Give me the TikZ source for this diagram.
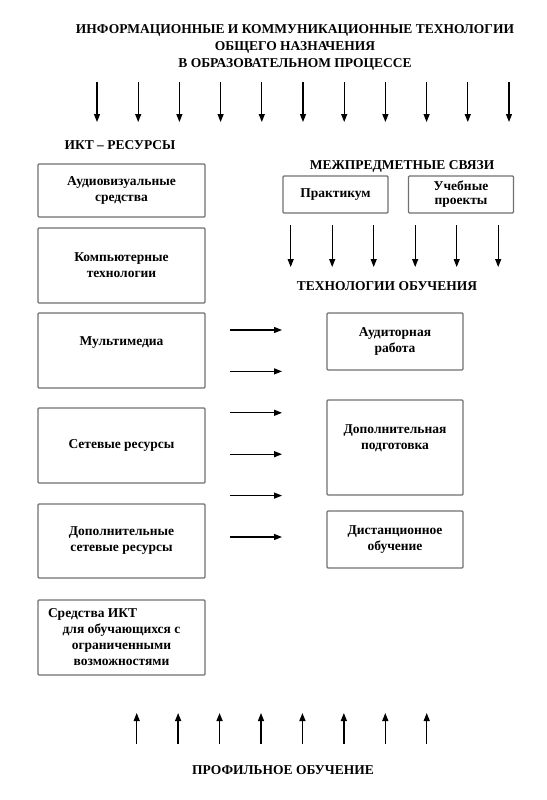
\documentclass[tikz,border=0pt]{standalone}
\usepackage{fontspec}
\setmainfont{Liberation Serif}
\usepackage{tikz}
\usetikzlibrary{arrows.meta,positioning}
\definecolor{boxgray}{RGB}{112,112,112}
\tikzset{
  arr/.style={line width=1.3pt,-{Triangle[length=8pt,width=6pt]}},
  resbox/.style={draw=boxgray,line width=1.3pt,rounded corners=1pt,minimum width=167pt,
    align=center,inner sep=0pt,font=\fontsize{13.5}{16}\selectfont\bfseries},
  techbox/.style={resbox,minimum width=136pt},
  linkbox/.style={resbox,minimum width=105pt,minimum height=37pt,font=\fontsize{13.5}{14}\selectfont\bfseries},
  boxtxt/.style={align=center,inner sep=0pt,font=\fontsize{13.5}{16}\selectfont\bfseries},
  headtxt/.style={anchor=base,inner sep=0pt,font=\fontsize{13.5}{17}\selectfont\bfseries}
}
\begin{document}
\begin{tikzpicture}[x=1pt,y=-1pt]
\useasboundingbox (0,0) rectangle (546,800);
\node[boxtxt,font=\fontsize{13.5}{17}\selectfont\bfseries] (title) at (295,47)
  {ИНФОРМАЦИОННЫЕ И КОММУНИКАЦИОННЫЕ ТЕХНОЛОГИИ\\ОБЩЕГО НАЗНАЧЕНИЯ\\В ОБРАЗОВАТЕЛЬНОМ ПРОЦЕССЕ};
\foreach \i in {0,...,10}{
  \coordinate (ta\i) at ({97+41.2*\i},82);
  \coordinate (tb\i) at ({97+41.2*\i},122);
  \draw[arr] (ta\i) -- (tb\i);
}

\node[headtxt] (ikt) at (120,149.5) {ИКТ – РЕСУРСЫ};
\node[resbox,minimum height=53pt] (aud) at (121.5,190.5) {Аудиовизуальные\\средства};
\node[resbox,minimum height=75pt] (comp) at (121.5,265.5) {Компьютерные\\технологии};
\node[resbox,minimum height=75pt] (mm) at (121.5,350.5) {};
\node[boxtxt] (mmtxt) at (121.5,343) {Мультимедиа};
\node[resbox,minimum height=75pt] (net) at (121.5,445.5) {Сетевые ресурсы};
\node[resbox,minimum height=74pt] (addnet) at (121.5,541) {Дополнительные\\сетевые ресурсы};
\node[resbox,minimum height=75pt] (ovz) at (121.5,637.5)
  {\makebox[147pt][l]{Средства ИКТ}\\для обучающихся с\\ограниченными\\возможностями};

\node[headtxt] (mezh) at (402,169.5) {МЕЖПРЕДМЕТНЫЕ СВЯЗИ};
\node[linkbox] (prak) at (335.5,194.5) {Практикум};
\node[linkbox] (proj) at (461,194.5) {Учебные\\проекты};
\foreach \i in {0,...,5}{
  \coordinate (ma\i) at ({290.7+41.5*\i},225);
  \coordinate (mb\i) at ({290.7+41.5*\i},267);
  \draw[arr] (ma\i) -- (mb\i);
}
\node[headtxt] (tech) at (387,290.5) {ТЕХНОЛОГИИ ОБУЧЕНИЯ};

\foreach \i in {0,...,5}{
  \coordinate (ha\i) at (230,{330+41.4*\i});
  \coordinate (hb\i) at (282,{330+41.4*\i});
  \draw[arr] (ha\i) -- (hb\i);
}
\node[techbox,minimum height=57pt] (audr) at (395,341.5) {Аудиторная\\работа};
\node[techbox,minimum height=95pt] (dop) at (395,447.5) {};
\node[boxtxt] (doptxt) at (395,438.5) {Дополнительная\\подготовка};
\node[techbox,minimum height=57pt] (dist) at (395,539.5) {Дистанционное\\обучение};

\foreach \i in {0,...,7}{
  \coordinate (ba\i) at ({136.7+41.43*\i},744);
  \coordinate (bb\i) at ({136.7+41.43*\i},713);
  \draw[arr] (ba\i) -- (bb\i);
}
\node[headtxt] (prof) at (283,774.5) {ПРОФИЛЬНОЕ ОБУЧЕНИЕ};
\end{tikzpicture}
\end{document}
